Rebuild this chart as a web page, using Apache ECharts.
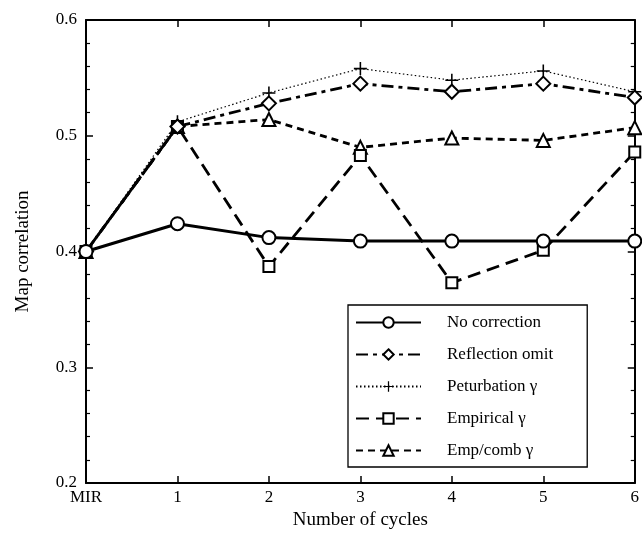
<!DOCTYPE html>
<html>
<head>
<meta charset="utf-8">
<script src="https://cdn.jsdelivr.net/npm/echarts@6/dist/echarts.min.js"></script>
<style>
html,body{margin:0;padding:0;background:#fff;}
#c{width:642px;height:538px;}
</style>
</head>
<body>
<div id="c"></div>
<script>
const categories = ['MIR', '1', '2', '3', '4', '5', '6'];
const noCorrection = [0.400, 0.424, 0.412, 0.409, 0.409, 0.409, 0.409];
const reflectionOmit = [0.400, 0.508, 0.528, 0.545, 0.538, 0.545, 0.533];
const peturbation = [0.400, 0.512, 0.537, 0.558, 0.548, 0.556, 0.538];
const empirical = [0.400, 0.508, 0.387, 0.483, 0.373, 0.401, 0.486];
const empComb = [0.400, 0.508, 0.514, 0.490, 0.498, 0.496, 0.507];
const seriesNames = ['No correction', 'Reflection omit', 'Peturbation \u03b3', 'Empirical \u03b3', 'Emp/comb \u03b3'];

const FONT = '"Liberation Serif", "DejaVu Serif", serif';
const plusPath = 'path://M4.4,0 h1.2 v4.4 h4.4 v1.2 h-4.4 v4.4 h-1.2 v-4.4 h-4.4 v-1.2 h4.4 z';

const chart = echarts.init(document.getElementById('c'), null, {renderer: 'canvas'});

function lineSeries(name, data, symbol, size, lineStyle, zBase) {
  return {
    name: name,
    type: 'line',
    data: data,
    symbol: symbol,
    symbolSize: size,
    showSymbol: true,
    lineStyle: Object.assign({color: '#000'}, lineStyle),
    itemStyle: {color: '#000', borderWidth: 1.4},
    emphasis: {disabled: true},
    animation: false,
    z: zBase
  };
}

const option = {
  backgroundColor: '#fff',
  animation: false,
  grid: {left: 86, right: 3, top: 20, bottom: 55, show: false},
  legend: {
    show: true,
    orient: 'vertical',
    left: 348,
    top: 305,
    backgroundColor: '#fff',
    borderColor: '#000',
    borderWidth: 1.3,
    padding: [9, 34, 8, 7],
    itemGap: 15,
    itemWidth: 65,
    itemHeight: 13,
    selectedMode: false,
    textStyle: {fontFamily: FONT, fontSize: 17, color: '#000', padding: [0, 0, 0, 21]},
    data: seriesNames
  },
  xAxis: [
    {
      type: 'category',
      data: categories,
      boundaryGap: false,
      position: 'bottom',
      axisLine: {show: true, lineStyle: {color: '#000', width: 2}},
      axisTick: {show: true, inside: true, length: 7, lineStyle: {color: '#000', width: 1.5}},
      axisLabel: {fontFamily: FONT, fontSize: 17, color: '#000', margin: 6},
      splitLine: {show: false},
      name: 'Number of cycles',
      nameLocation: 'middle',
      nameGap: 26,
      nameTextStyle: {fontFamily: FONT, fontSize: 19, color: '#000'}
    },
    {
      type: 'category',
      data: categories,
      boundaryGap: false,
      position: 'top',
      axisLine: {show: true, lineStyle: {color: '#000', width: 2}},
      axisTick: {show: true, inside: true, length: 7, lineStyle: {color: '#000', width: 1.5}},
      axisLabel: {show: false},
      splitLine: {show: false}
    }
  ],
  yAxis: [
    {
      type: 'value',
      min: 0.2,
      max: 0.6,
      interval: 0.1,
      position: 'left',
      axisLine: {show: true, lineStyle: {color: '#000', width: 2}},
      axisTick: {show: true, inside: true, length: 7, lineStyle: {color: '#000', width: 1.5}},
      minorTick: {show: true, splitNumber: 5, length: 4, lineStyle: {color: '#000', width: 1.2}},
      axisLabel: {fontFamily: FONT, fontSize: 17, color: '#000', margin: 9, formatter: v => v.toFixed(1)},
      splitLine: {show: false},
      name: 'Map correlation',
      nameLocation: 'middle',
      nameGap: 53,
      nameTextStyle: {fontFamily: FONT, fontSize: 19, color: '#000'}
    },
    {
      type: 'value',
      min: 0.2,
      max: 0.6,
      interval: 0.1,
      position: 'right',
      axisLine: {show: true, lineStyle: {color: '#000', width: 2}},
      axisTick: {show: true, inside: true, length: 7, lineStyle: {color: '#000', width: 1.5}},
      minorTick: {show: true, splitNumber: 5, length: 4, lineStyle: {color: '#000', width: 1.2}},
      axisLabel: {show: false},
      splitLine: {show: false}
    }
  ],
  series: [
    lineSeries(seriesNames[0], noCorrection, 'emptyCircle', 13, {width: 3, type: 'solid'}, 5),
    lineSeries(seriesNames[1], reflectionOmit, 'emptyDiamond', 14, {width: 2.8, type: [12, 5, 4, 5]}, 4),
    lineSeries(seriesNames[2], peturbation, plusPath, 13, {width: 1.2, type: [1.5, 2.5]}, 3),
    lineSeries(seriesNames[3], empirical, 'emptyRect', 11, {width: 2.8, type: [13, 7]}, 2),
    lineSeries(seriesNames[4], empComb, 'emptyTriangle', 13, {width: 2.8, type: [7, 5]}, 1)
  ]
};
chart.setOption(option);
</script>
</body>
</html>
